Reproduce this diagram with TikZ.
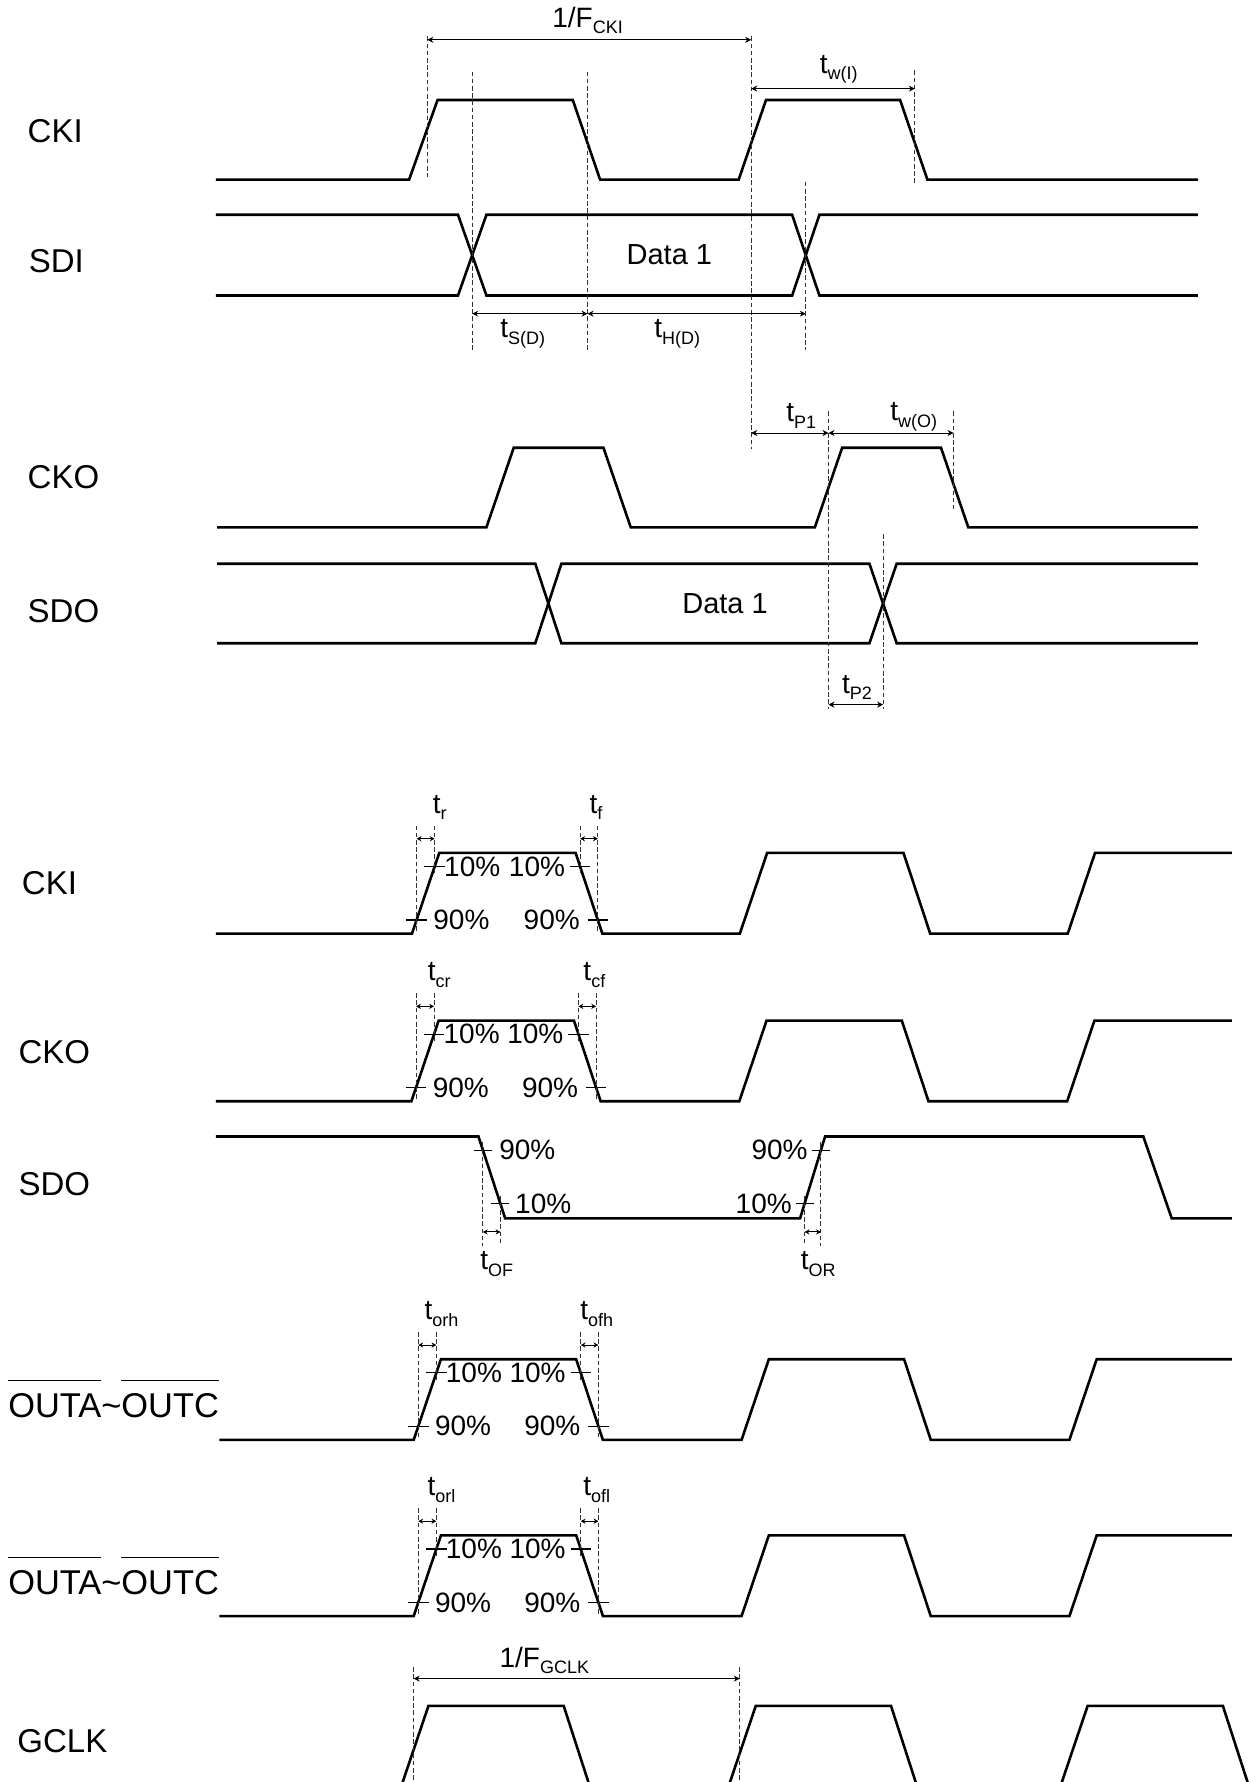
\documentclass[tikz,border=0pt]{standalone}
\usepackage{fontspec}
\setmainfont{Liberation Sans}
\usetikzlibrary{arrows.meta}

\newcommand{\tsub}[1]{\raisebox{-0.45ex}{\fontsize{9}{10}\selectfont #1}}
\newcommand{\barred}[1]{\vbox{\hrule height 0.6pt\kern 6.2pt\hbox{#1}}}

\begin{document}
\begin{tikzpicture}[x=0.5682pt, y=-0.5682pt,
		wave/.style={line width=1.3pt, line join=miter},
		guide/.style={line width=0.45pt, black!80, dash pattern=on 2.3pt off 1.3pt},
		dim/.style={line width=0.5pt, {Stealth[length=3pt,width=3pt]}-{Stealth[length=3pt,width=3pt]}},
		sdim/.style={line width=0.5pt, {Stealth[length=2.4pt,width=2.6pt]}-{Stealth[length=2.4pt,width=2.6pt]}},
		tickline/.style={line width=0.55pt},
		sig/.style={anchor=west, inner sep=0pt, font=\fontsize{16.5}{18}\selectfont},
		tlab/.style={inner sep=0pt, font=\fontsize{14}{16}\selectfont},
		pct/.style={inner sep=0pt, font=\fontsize{14}{16}\selectfont},
		dat/.style={inner sep=0pt, font=\fontsize{14.5}{16}\selectfont}]
			\useasboundingbox (0,0) rectangle (1107,1568);
			\clip (0,0) rectangle (1107,1568);

			% CKI / SDI
			\draw[wave] (190,158) -- (360,158) -- (385,88) -- (504,88) -- (528,158) -- (650,158) -- (674,88) -- (792,88) -- (816,158) -- (1054,158);
			\draw[wave] (190,189) -- (403,189) -- (428,260) -- (697,260) -- (721,189) -- (1054,189);
			\draw[wave] (190,260) -- (403,260) -- (428,189) -- (697,189) -- (721,260) -- (1054,260);

			% CKO / SDO
			\draw[wave] (191,464) -- (428,464) -- (452,394) -- (531,394) -- (555,464) -- (717,464) -- (741,394) -- (828,394) -- (852,464) -- (1054,464);
			\draw[wave] (191,496) -- (471,496) -- (494,566) -- (765,566) -- (789,496) -- (1054,496);
			\draw[wave] (191,566) -- (471,566) -- (494,496) -- (765,496) -- (789,566) -- (1054,566);

			\foreach \x/\a/\b in {376/32/156, 415.5/63/308, 517/63/308, 661/32/395, 709/160/308, 805/62/163, 729/362/624, 777/470/624, 839/362/448}
				\draw[guide] (\x,\a) -- (\x,\b);

			\coordinate (fa) at (376,35);
			\coordinate (fb) at (661,35);
			\coordinate (wa) at (661,78);
			\coordinate (wb) at (805,78);
			\coordinate (sa) at (415.5,276);
			\coordinate (sb) at (517,276);
			\coordinate (sc) at (709,276);
			\coordinate (pa) at (661,381);
			\coordinate (pb) at (729,381);
			\coordinate (pc) at (839,381);
			\coordinate (qa) at (729,620);
			\coordinate (qb) at (777,620);

			\draw[dim] (fa) -- (fb);
			\draw[dim] (wa) -- (wb);
			\draw[dim] (sa) -- (sb);
			\draw[dim] (sb) -- (sc);
			\draw[dim] (pa) -- (pb);
			\draw[dim] (pb) -- (pc);
			\draw[dim] (qa) -- (qb);

			\node[tlab] (fckil) at (517,18) {1/F\tsub{CKI}};
			\node[tlab] (twil) at (738,61) {t\tsub{w(I)}};
			\node[tlab] (tsdl) at (460,294) {t\tsub{S(D)}};
			\node[tlab] (thdl) at (596,294) {t\tsub{H(D)}};
			\node[tlab] (tpal) at (705,366) {t\tsub{P1}};
			\node[tlab] (twol) at (804,367) {t\tsub{w(O)}};
			\node[tlab] (tpbl) at (754,605) {t\tsub{P2}};

			\node[dat] (sdid) at (589,224) {Data 1};
			\node[dat] (sdod) at (638,531) {Data 1};

			\node[sig] (ckia) at (24,115) {CKI};
			\node[sig] (sdia) at (25,230) {SDI};
			\node[sig] (ckoa) at (24,420) {CKO};
			\node[sig] (sdoa) at (24,538) {SDO};

			% rise / fall times
			\foreach \hi/\xa/\xf/\xs/\nr/\nf [count=\rw] in {750.5/362.5/506.5/190/r/f, 898/362/505/190/cr/cf, 1196/364/507/193/orh/ofh, 1351/364/507/193/orl/ofl}{
				\draw[wave] (\xs,{\hi+71}) -- (\xa,{\hi+71}) -- ({\xa+24},\hi) -- (\xf,\hi) -- ({\xf+23.5},{\hi+71}) -- ({\xa+288.5},{\hi+71}) -- ({\xa+312.5},\hi) -- ({\xf+288.5},\hi) -- ({\xf+312},{\hi+71}) -- ({\xa+577},{\hi+71}) -- ({\xa+601},\hi) -- (1084,\hi);
				\coordinate (ra\rw) at ({\xa+19.9},{\hi+12});
				\coordinate (rb\rw) at ({\xa+4.1},{\hi+59});
				\coordinate (fa\rw) at ({\xf+4},{\hi+12});
				\coordinate (fb\rw) at ({\xf+19.5},{\hi+59});
				\foreach \p in {ra,fa} {
					\draw[tickline] (\p\rw) ++(-9,0) -- ++(18,0);
					\draw[guide] (\p\rw) ++(0,-36) -- ++(0,43);
				}
				\foreach \p in {rb,fb} {
					\draw[tickline] (\p\rw) ++(-9,0) -- ++(18,0);
					\draw[guide] (\p\rw) ++(0,-83) -- ++(0,95);
				}
				\path (rb\rw) ++(0,-71.5) coordinate (rt\rw);
				\path (fa\rw) ++(0,-24.5) coordinate (ft\rw);
				\draw[sdim] (rt\rw) -- (rt\rw -| ra\rw);
				\draw[sdim] (ft\rw) -- (ft\rw -| fb\rw);
				\node[tlab] (tr\rw) at ({\xa+24.5},{\hi-40}) {t\tsub{\nr}};
				\node[tlab] (tf\rw) at ({\xf+18},{\hi-40}) {t\tsub{\nf}};
				\node[pct, anchor=west] (pa\rw) at ({\xa+28},{\hi+12}) {10\%};
				\node[pct, anchor=west] (pb\rw) at ({\xa+18.5},{\hi+59}) {90\%};
				\node[pct, anchor=east] (pc\rw) at ({\xf-9},{\hi+12}) {10\%};
				\node[pct, anchor=east] (pd\rw) at ({\xf+4},{\hi+59}) {90\%};
			}

			% SDO output times
			\draw[wave] (190,1000) -- (421,1000) -- (444.5,1072) -- (704,1072) -- (726,1000) -- (1006,1000) -- (1031,1072) -- (1084,1072);
			\coordinate (oa) at (424.9,1012);
			\coordinate (ob) at (440.3,1059);
			\coordinate (oc) at (708,1059);
			\coordinate (od) at (722.3,1012);
			\foreach \p in {oa,ob,oc,od}
				\draw[tickline] (\p) ++(-8,0) -- ++(16,0);
			\draw[guide] (oa) ++(0,-7) -- (424.9,1096);
			\draw[guide] (ob) ++(0,-7) -- (440.3,1096);
			\draw[guide] (oc) ++(0,-7) -- (708,1096);
			\draw[guide] (od) ++(0,-7) -- (722.3,1096);
			\coordinate (ofa) at (424.9,1084);
			\coordinate (ora) at (708,1084);
			\draw[sdim] (ofa) -- (ofa -| ob);
			\draw[sdim] (ora) -- (ora -| od);
			\node[tlab] (tofl) at (437,1112) {t\tsub{OF}};
			\node[tlab] (torl) at (720,1112) {t\tsub{OR}};
			\node[pct, anchor=west] (oapc) at (439,1012) {90\%};
			\node[pct, anchor=west] (obpc) at (453,1059) {10\%};
			\node[pct, anchor=east] (odpc) at (711,1012) {90\%};
			\node[pct, anchor=east] (ocpc) at (697,1059) {10\%};

			% GCLK
			\draw[wave] (190,1572) -- (353,1572) -- (377,1501) -- (496,1501) -- (519,1572) -- (641,1572) -- (665,1501) -- (784,1501) -- (807,1572) -- (933,1572) -- (957,1501) -- (1076,1501) -- (1099,1572);
			\draw[guide] (364,1467) -- (364,1570);
			\draw[guide] (651,1467) -- (651,1570);
			\coordinate (ga) at (364,1477);
			\coordinate (gb) at (651,1477);
			\draw[dim] (ga) -- (gb);
			\node[tlab] (fgclkl) at (479,1461) {1/F\tsub{GCLK}};

			\node[sig] (ckib) at (19,777) {CKI};
			\node[sig] (ckob) at (16,926) {CKO};
			\node[sig] (sdob) at (16,1042) {SDO};
			\node[sig, anchor=base west, font=\fontsize{17.2}{19}\selectfont] (outa) at (7,1247) {\barred{OUTA}\textasciitilde\barred{OUTC}};
			\node[sig, anchor=base west, font=\fontsize{17.2}{19}\selectfont] (outb) at (7,1403) {\barred{OUTA}\textasciitilde\barred{OUTC}};
			\node[sig] (gclk) at (15,1532) {GCLK};
		\end{tikzpicture}
\end{document}
